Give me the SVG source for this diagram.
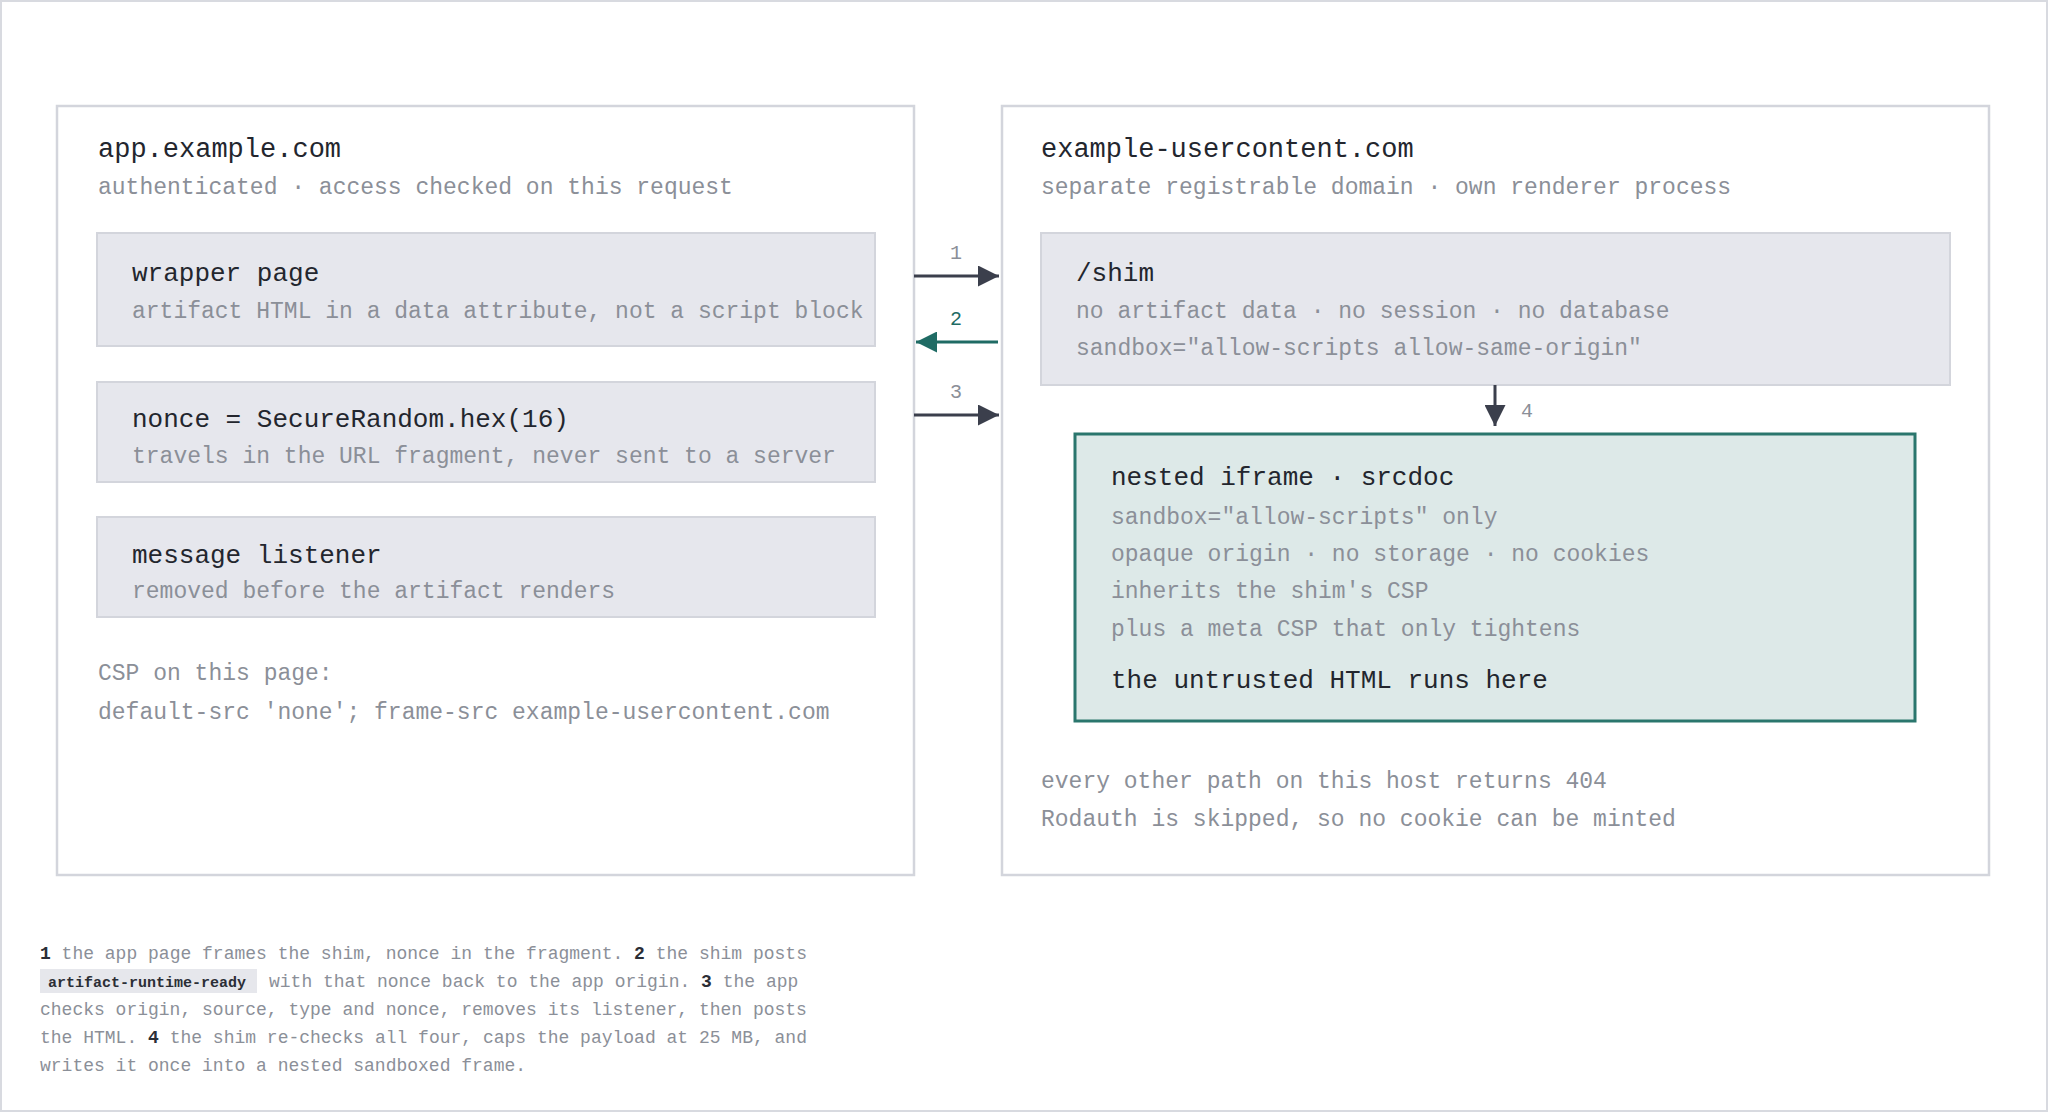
<svg xmlns="http://www.w3.org/2000/svg" width="2048" height="1112" viewBox="0 0 2048 1112">
<defs>
<style>
text{font-family:"Liberation Mono","DejaVu Sans Mono",monospace;}
.title{font-size:27px;fill:#23262e;}
.sub{font-size:23px;fill:#8b8f98;}
.bt{font-size:26px;fill:#23262e;}
.bs{font-size:23px;fill:#8b8f98;}
.panel{fill:#ffffff;stroke:#d3d5dc;stroke-width:2.5;}
.box{fill:#e6e7ed;stroke:#d3d5dc;stroke-width:2;}
.teal{fill:#dde9e8;stroke:#2a766d;stroke-width:3;}
.lbl{font-size:20px;fill:#8b8f98;}
.fn{font-size:18px;fill:#8b8f98;}
.num{fill:#2b2e36;font-weight:bold;}
.chip{font-size:15px;fill:#2b2e36;font-weight:bold;}
.dark{stroke:#3b3f4c;stroke-width:3;fill:none;}
.tl{stroke:#1f6b64;stroke-width:3;fill:none;}
</style>
<marker id="ah" viewBox="0 0 10 10" refX="10" refY="5" markerWidth="7" markerHeight="7" markerUnits="strokeWidth" orient="auto">
<path d="M0,0 L10,5 L0,10 z" fill="#3b3f4c"/>
</marker>
<marker id="aht" viewBox="0 0 10 10" refX="10" refY="5" markerWidth="7" markerHeight="7" markerUnits="strokeWidth" orient="auto">
<path d="M0,0 L10,5 L0,10 z" fill="#1f6b64"/>
</marker>
</defs>
<rect x="0" y="0" width="2048" height="1112" fill="#ffffff"/>
<rect x="1" y="1" width="2046" height="1110" fill="none" stroke="#d8dae0" stroke-width="2"/>

<g id="app-panel">
<rect class="panel" x="57" y="106" width="857" height="769"/>
<text class="title" x="98" y="157">app.example.com</text>
<text class="sub" x="98" y="194">authenticated · access checked on this request</text>
<text class="sub" x="98" y="680">CSP on this page:</text>
<text class="sub" x="98" y="719">default-src 'none'; frame-src example-usercontent.com</text>
</g>

<g id="wrapper-page">
<rect class="box" x="97" y="233" width="778" height="113"/>
<text class="bt" x="132" y="281">wrapper page</text>
<text class="bs" x="132" y="318">artifact HTML in a data attribute, not a script block</text>
</g>

<g id="nonce">
<rect class="box" x="97" y="382" width="778" height="100"/>
<text class="bt" x="132" y="427">nonce = SecureRandom.hex(16)</text>
<text class="bs" x="132" y="463">travels in the URL fragment, never sent to a server</text>
</g>

<g id="message-listener">
<rect class="box" x="97" y="517" width="778" height="100"/>
<text class="bt" x="132" y="563">message listener</text>
<text class="bs" x="132" y="598">removed before the artifact renders</text>
</g>

<g id="usercontent-panel">
<rect class="panel" x="1002" y="106" width="987" height="769"/>
<text class="title" x="1041" y="157">example-usercontent.com</text>
<text class="sub" x="1041" y="194">separate registrable domain · own renderer process</text>
<text class="sub" x="1041" y="788">every other path on this host returns 404</text>
<text class="sub" x="1041" y="826">Rodauth is skipped, so no cookie can be minted</text>
</g>

<g id="shim">
<rect class="box" x="1041" y="233" width="909" height="152"/>
<text class="bt" x="1076" y="281">/shim</text>
<text class="bs" x="1076" y="318">no artifact data · no session · no database</text>
<text class="bs" x="1076" y="355">sandbox="allow-scripts allow-same-origin"</text>
</g>

<g id="nested-iframe">
<rect class="teal" x="1075" y="434" width="840" height="287"/>
<text class="bt" x="1111" y="485">nested iframe · srcdoc</text>
<text class="bs" x="1111" y="524">sandbox="allow-scripts" only</text>
<text class="bs" x="1111" y="561">opaque origin · no storage · no cookies</text>
<text class="bs" x="1111" y="598">inherits the shim's CSP</text>
<text class="bs" x="1111" y="636">plus a meta CSP that only tightens</text>
<text class="bt" x="1111" y="688">the untrusted HTML runs here</text>
</g>

<g id="connectors">
<line class="dark" x1="914" y1="276" x2="999" y2="276" marker-end="url(#ah)"/>
<text class="lbl" x="956" y="259" text-anchor="middle">1</text>
<line class="tl" x1="998" y1="342" x2="916" y2="342" marker-end="url(#aht)"/>
<text class="lbl" x="956" y="325" text-anchor="middle" style="fill:#1f6b64">2</text>
<line class="dark" x1="914" y1="415" x2="999" y2="415" marker-end="url(#ah)"/>
<text class="lbl" x="956" y="398" text-anchor="middle">3</text>
<line class="dark" x1="1495" y1="385" x2="1495" y2="426" marker-end="url(#ah)"/>
<text class="lbl" x="1521" y="417">4</text>
</g>

<g id="footnote">
<text class="fn" x="40" y="959"><tspan class="num">1</tspan> the app page frames the shim, nonce in the fragment. <tspan class="num">2</tspan> the shim posts</text>
<rect x="40" y="969" width="217" height="24" fill="#e6e7ec"/>
<text class="chip" x="48" y="987">artifact-runtime-ready</text>
<text class="fn" x="269" y="987">with that nonce back to the app origin. <tspan class="num">3</tspan> the app</text>
<text class="fn" x="40" y="1015">checks origin, source, type and nonce, removes its listener, then posts</text>
<text class="fn" x="40" y="1043">the HTML. <tspan class="num">4</tspan> the shim re-checks all four, caps the payload at 25 MB, and</text>
<text class="fn" x="40" y="1071">writes it once into a nested sandboxed frame.</text>
</g>
</svg>
